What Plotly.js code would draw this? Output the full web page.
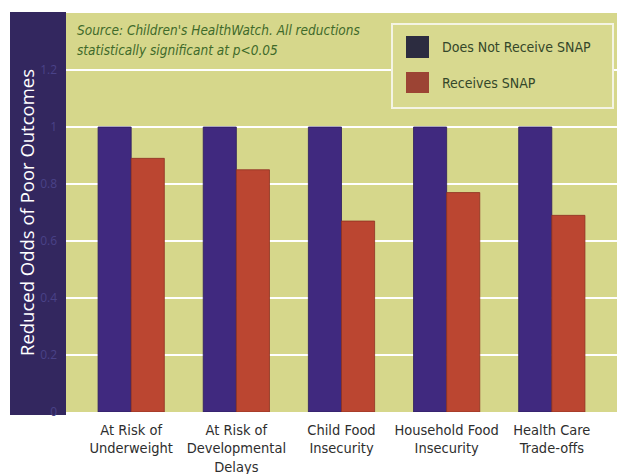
<!DOCTYPE html>
<html>
<head>
<meta charset="utf-8">
<script src="https://cdn.plot.ly/plotly-3.0.1.min.js"></script>
<style>html,body{margin:0;padding:0;background:#fff;}</style>
</head>
<body>
<div id="chart" style="width:617px;height:474px;"></div>
<script>
var categories = ["At Risk of<br>Underweight", "At Risk of<br>Developmental<br>Delays", "Child Food<br>Insecurity", "Household Food<br>Insecurity", "Health Care<br>Trade-offs"];
var seriesNames = ["Does Not Receive SNAP", "Receives SNAP"];
var noSnap = [1, 1, 1, 1, 1];
var snap = [0.89, 0.85, 0.67, 0.77, 0.69];
var yTicks = [0, 0.2, 0.4, 0.6, 0.8, 1, 1.2];
var yTickText = ["0", "0.2", "0.4", "0.6", "0.8", "1", "1.2"];
var sourceLines = ["Source: Children's HealthWatch. All reductions", "statistically significant at p<0.05"];

var narrow = '"Liberation Sans Narrow", "DejaVu Sans Condensed", "Open Sans", sans-serif';
var xIdx = categories.map(function(_, i){ return i; });

var traces = [
  {type: 'bar', name: seriesNames[0], x: xIdx, y: noSnap,
   marker: {color: '#40297f', line: {color: '#2c1d5c', width: 0.8}}, showlegend: false, hoverinfo: 'y'},
  {type: 'bar', name: seriesNames[1], x: xIdx, y: snap,
   marker: {color: '#bb4631', line: {color: '#8e3122', width: 0.8}}, showlegend: false, hoverinfo: 'y'}
];

var W = 551, H = 399, L = 66, T = 13;
function px(x){ return (x - L) / W; }
function py(y){ return (T + H - y) / H; }

var layout = {
  width: 617, height: 474,
  margin: {l: 66, r: 0, t: 13, b: 62},
  paper_bgcolor: '#ffffff',
  plot_bgcolor: '#d6d78b',
  barmode: 'group',
  bargap: 0.37,
  bargroupgap: 0,
  font: {family: narrow, color: '#333333'},
  xaxis: {
    range: [-0.62, 4.62],
    tickmode: 'array', tickvals: xIdx, ticktext: categories,
    showgrid: false, zeroline: false, showline: false, ticks: '',
    tickfont: {family: narrow, size: 14.5, color: '#2e2e2e'},
    ticklabelstandoff: 7,
    fixedrange: true
  },
  yaxis: {
    range: [0, 1.4],
    tickmode: 'array', tickvals: yTicks, ticktext: yTickText,
    showgrid: true, gridcolor: '#ffffff', gridwidth: 2,
    zeroline: false, showline: false, ticks: '',
    tickfont: {family: '"Open Sans", sans-serif', size: 12, color: '#4a4288'},
    ticklabelstandoff: 8,
    title: {text: 'Reduced Odds of Poor Outcomes', font: {family: '"Open Sans", sans-serif', size: 18.5, color: '#ffffff'}, standoff: 0},
    automargin: false,
    fixedrange: true
  },
  shapes: [
    {type: 'rect', xref: 'paper', yref: 'paper', x0: px(10), x1: 0, y0: py(415), y1: py(12),
     fillcolor: '#33275f', line: {width: 0}, layer: 'below'},
    {type: 'rect', xref: 'paper', yref: 'paper', x0: px(392), x1: px(613), y0: py(108), y1: py(24),
     fillcolor: '#d8d98f', line: {color: '#f4f4e4', width: 2}, layer: 'above'},
    {type: 'rect', xref: 'paper', yref: 'paper', x0: px(406), x1: px(429), y0: py(58), y1: py(36),
     fillcolor: '#2c2c40', line: {width: 0}, layer: 'above'},
    {type: 'rect', xref: 'paper', yref: 'paper', x0: px(406), x1: px(429), y0: py(93), y1: py(72),
     fillcolor: '#9c4434', line: {width: 0}, layer: 'above'}
  ],
  annotations: [
    {xref: 'paper', yref: 'paper', x: px(440), y: py(47), xanchor: 'left', yanchor: 'middle', showarrow: false,
     text: seriesNames[0], font: {family: narrow, size: 14, color: '#34472a'}},
    {xref: 'paper', yref: 'paper', x: px(440), y: py(83), xanchor: 'left', yanchor: 'middle', showarrow: false,
     text: seriesNames[1], font: {family: narrow, size: 14, color: '#34472a'}},
    {xref: 'paper', yref: 'paper', x: px(75), y: py(30), xanchor: 'left', yanchor: 'middle', showarrow: false,
     text: '<i>' + sourceLines[0] + '</i>', font: {family: narrow, size: 13.5, color: '#3f6a2a'}},
    {xref: 'paper', yref: 'paper', x: px(75), y: py(50), xanchor: 'left', yanchor: 'middle', showarrow: false,
     text: '<i>' + sourceLines[1] + '</i>', font: {family: narrow, size: 13.5, color: '#3f6a2a'}}
  ]
};

Plotly.newPlot('chart', traces, layout, {displayModeBar: false, staticPlot: true});
</script>
</body>
</html>
